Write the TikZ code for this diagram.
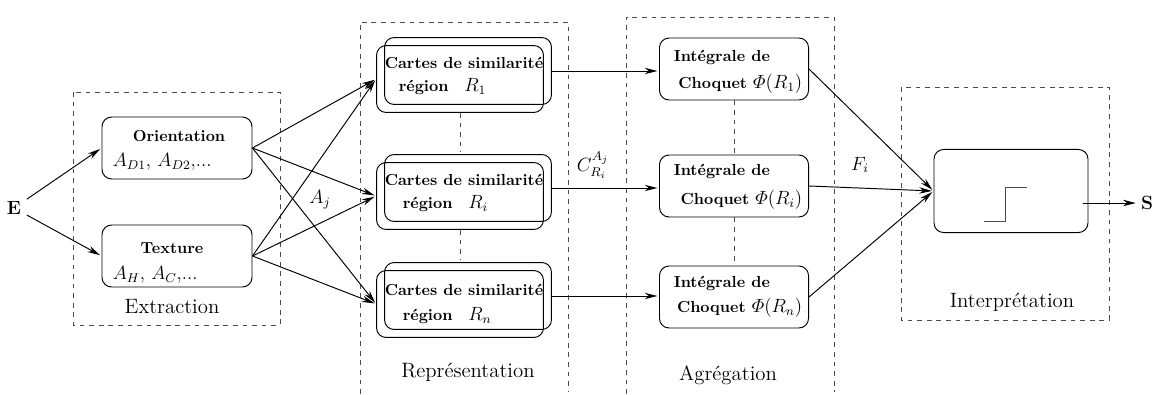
\documentclass[tikz,border=0pt]{standalone}
\usepackage{amsmath}
\usetikzlibrary{arrows.meta}
\begin{document}
\begin{tikzpicture}[x=0.022cm, y=-0.022cm, shorten >=1pt, line width=0.6pt, >={Stealth[length=8pt,width=4pt]},
  main node/.style={draw, rounded corners=6pt, inner sep=0pt},
  feat node/.style={main node, minimum width=93.9pt, minimum height=38.8pt},
  map node/.style={main node, minimum width=104.5pt, minimum height=41.9pt},
  agg node/.style={main node, minimum width=93.3pt, minimum height=38.8pt},
  dash box/.style={dashed, black!70},
  group label/.style={font=\fontsize{13}{15}\selectfont}]
\useasboundingbox (0,0) rectangle (1154,394);
\draw[dash box] (73,92) rectangle (280,325);
\draw[dash box] (360,394) -- (360,22) -- (568,22) -- (568,394);
\draw[dash box] (626,394) -- (626,17) -- (834,17) -- (834,394);
\draw[dash box] (901,87) rectangle (1109,320);
\node[group label] (lext) at (172,307) {Extraction};
\node[group label] (lrep) at (468,372) {Représentation};
\node[group label] (lagg) at (728,375) {Agrégation};
\node[group label] (lint) at (1012,302) {Interprétation};

\node[font=\bfseries\large] (e) at (14,208) {E};
\node[feat node] (orient) at (177,148) {};
\node[feat node] (tex) at (177,256) {};
\node[font=\bfseries] (orientt) at (179,136) {Orientation};
\node[anchor=west, font=\large] (orientm) at (107,162) {$A_{D1}$, $A_{D2}$,...};
\node[font=\bfseries] (text) at (172,248) {Texture};
\node[anchor=west, font=\large] (texm) at (107,275) {$A_H$, $A_C$,...};

\begin{scope}[every node/.style={font=\bfseries}]
\node[map node] (cb1) at (468,71) {};
\node[map node] (ca1) at (460,79) {};
\node (ct1) at (464,63) {Cartes de similarité};
\node[anchor=west] (cr1) at (393,87) {région\quad{\large$R_1$}};
\node[map node] (cb2) at (468,188) {};
\node[map node] (ca2) at (460,196) {};
\node (ct2) at (464,180) {Cartes de similarité};
\node[anchor=west] (cr2) at (397,204) {région\quad{\large$R_i$}};
\node[map node] (cb3) at (468,296) {};
\node[map node] (ca3) at (460,304) {};
\node (ct3) at (464,290) {Cartes de similarité};
\node[anchor=west] (cr3) at (397,316) {région\quad{\large$R_n$}};

\node[agg node] (i1) at (734,69) {};
\node[anchor=west] (it1) at (668,57) {Intégrale de};
\node[anchor=east] (iq1) at (808,84) {Choquet {\large$\varPhi(R_1)$}};
\node[agg node] (i2) at (734,186) {};
\node[anchor=west] (it2) at (668,171) {Intégrale de};
\node[anchor=east] (iq2) at (808,200) {Choquet {\large$\varPhi(R_i)$}};
\node[agg node] (i3) at (734,297) {};
\node[anchor=west] (it3) at (668,283) {Intégrale de};
\node[anchor=east] (iq3) at (808,308) {Choquet {\large$\varPhi(R_n)$}};
\end{scope}

\node[main node, minimum width=96.4pt, minimum height=52pt] (interp) at (1011,191) {};
\draw[black!70] (984,221) -- (1005,221) -- (1005,187) -- (1029,187);
\coordinate (sout) at (1083,203);
\node[font=\bfseries\large, inner sep=2pt] (s) at (1147,203) {S};

\node[font=\large] (laj) at (320,200) {$A_j$};
\node[font=\large] (lc) at (593,165) {$C_{R_i}^{A_j}$};
\node[font=\large] (lf) at (860,165) {$F_i$};

\path[->]
	(e) edge (orient.west)
	(e) edge (tex.west)
	(orient.east) edge (ca1.west)
	(orient.east) edge (ca2.west)
	(orient.east) edge (ca3.west)
	(tex.east) edge (ca1.west)
	(tex.east) edge (ca2.west)
	(tex.east) edge (ca3.west)
	(cb1.east) edge (cb1.east -| i1.west)
	(cb2.east) edge (cb2.east -| i2.west)
	(cb3.east) edge (cb3.east -| i3.west)
	(i1.east) edge (interp.west)
	(i2.east) edge (interp.west)
	(i3.east) edge (interp.west)
	(sout) edge (s)
	;
\path[dash box]
	(ca1.south) edge (ca1.south |- cb2.north)
	(ca2.south) edge (ca2.south |- cb3.north)
	(i1.south) edge (i2.north)
	(i2.south) edge (i3.north)
	;
\end{tikzpicture}
\end{document}
